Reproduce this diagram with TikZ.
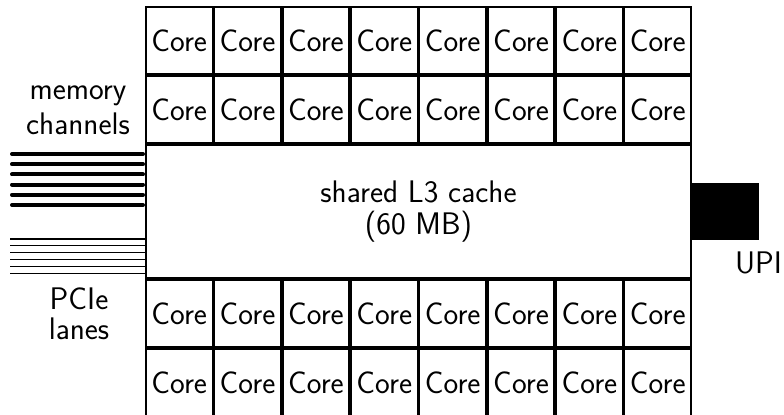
\documentclass[tikz,border=0pt]{standalone}
\usepackage{fontspec}
\begin{document}
\begin{tikzpicture}[x=0.5pt,y=-0.5pt,
  every node/.style={font=\sffamily\fontsize{15.6}{17}\selectfont, inner sep=0pt},
  corebox/.style={draw, line width=0.9pt, minimum width=33.29pt, minimum height=33.6pt},
  cachebox/.style={draw, line width=0.9pt, minimum width=272.6pt, minimum height=66.6pt},
  upibox/.style={fill=black, minimum width=33.5pt, minimum height=28.5pt},
  memline/.style={line width=2pt, line cap=round, shorten >=1pt},
  pcieline/.style={line width=0.65pt}]
\useasboundingbox (0,0) rectangle (784,415);

% two rows of cores above and two below the cache
\foreach \r/\top in {1/6, 2/75, 3/279, 4/348}{
  \foreach \c in {1,...,8}{
    \node[corebox] (core-\r-\c) at ({145+68.375*(\c-0.5)}, {\top+34.5}) {Core};
  }
}

% shared L3 cache
\node[cachebox, align=center, font=\sffamily\fontsize{15.6}{16}\selectfont]
  (l3) at (418.5, 211.5) {shared L3 cache\\(60 MB)};

% UPI link
\node[upibox] (upi) at (725.5, 211.5) {};
\node (upilabel) at (758.5, 263) {UPI};

% memory channels
\foreach \i in {0,...,5}{
  \coordinate (m\i) at (12, {154+10.2*\i});
  \draw[memline] (m\i) -- (m\i -| l3.west);
}
\node[align=center, font=\sffamily\fontsize{15.6}{17.5}\selectfont]
  (memlabel) at (78, 110) {memory\\channels};

% PCIe lanes
\foreach \i in {0,...,5}{
  \coordinate (p\i) at (10, {239+6.85*\i});
  \draw[pcieline] (p\i) -- (p\i -| l3.west);
}
\node[align=center, font=\sffamily\fontsize{15.6}{15}\selectfont]
  (pcielabel) at (79, 314) {PCIe\\lanes};
\end{tikzpicture}
\end{document}
